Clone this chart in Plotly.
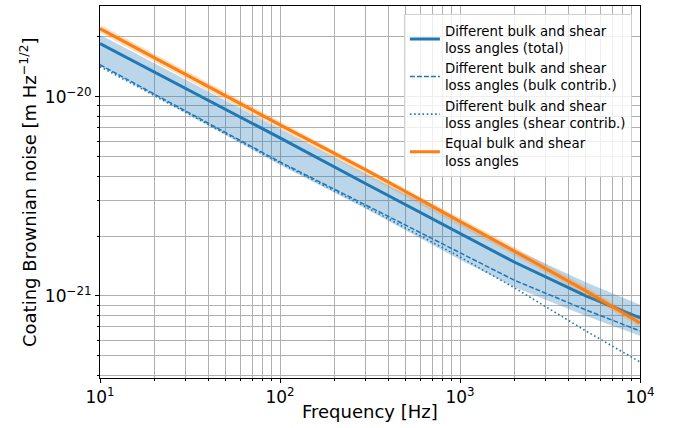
import numpy as np
import plotly.graph_objects as go

# ---- data ----
freq = [10, 30, 100, 300, 1000, 2000, 5000, 10000]
total = [1.85e-20, 1.10e-20, 6.22e-21, 3.66e-21, 2.05e-21, 1.48e-21, 1.00e-21, 7.75e-22]
bulk = [1.45e-20, 8.51e-21, 4.71e-21, 2.86e-21, 1.64e-21, 1.20e-21, 8.51e-22, 6.67e-22]
shear = [1.42e-20, 8.31e-21, 4.66e-21, 2.80e-21, 1.57e-21, 1.10e-21, 6.67e-22, 4.66e-22]
equal = [2.20e-20, 1.29e-20, 7.23e-21, 4.30e-21, 2.38e-21, 1.68e-21, 1.06e-21, 7.31e-22]
total_upper = [2.05e-20, 1.22e-20, 6.90e-21, 4.10e-21, 2.38e-21, 1.72e-21, 1.17e-21, 9.02e-22]
total_lower = [1.43e-20, 8.31e-21, 4.55e-21, 2.74e-21, 1.52e-21, 1.11e-21, 7.93e-22, 6.30e-22]

x_tickvals = [10, 100, 1000, 10000]
x_ticktext = ["10<sup>1</sup>", "10<sup>2</sup>", "10<sup>3</sup>", "10<sup>4</sup>"]
y_tickvals = [1e-21, 1e-20]
y_ticktext = ["10<sup>−21</sup>", "10<sup>−20</sup>"]

labels = [
    "Different bulk and shear<br>loss angles (total)",
    "Different bulk and shear<br>loss angles (bulk contrib.)",
    "Different bulk and shear<br>loss angles (shear contrib.)",
    "Equal bulk and shear<br>loss angles",
]
x_title = "Frequency [Hz]"
y_title = "Coating Brownian noise [m Hz<sup>−1/2</sup>]"

BLUE = "#1f77b4"
ORANGE = "#ff7f0e"
FONT = "DejaVu Sans"

fig = go.Figure()
# uncertainty band
fig.add_trace(go.Scatter(x=freq, y=total_lower, mode="lines", line=dict(width=0),
                         showlegend=False, hoverinfo="skip"))
fig.add_trace(go.Scatter(x=freq, y=total_upper, mode="lines", line=dict(width=0),
                         fill="tonexty", fillcolor="rgba(31,119,180,0.3)",
                         showlegend=False, hoverinfo="skip"))
fig.add_trace(go.Scatter(x=freq, y=total, mode="lines", name=labels[0],
                         line=dict(color=BLUE, width=3)))
fig.add_trace(go.Scatter(x=freq, y=bulk, mode="lines", name=labels[1],
                         line=dict(color=BLUE, width=1.5, dash="5px,2px")))
fig.add_trace(go.Scatter(x=freq, y=shear, mode="lines", name=labels[2],
                         line=dict(color=BLUE, width=1.6, dash="1.6px,2.6px")))
# faint halo for the equal-case line
fig.add_trace(go.Scatter(x=freq, y=equal, mode="lines", showlegend=False, hoverinfo="skip",
                         line=dict(color="rgba(255,127,14,0.25)", width=7)))
fig.add_trace(go.Scatter(x=freq, y=equal, mode="lines", name=labels[3],
                         line=dict(color=ORANGE, width=3)))

def minor_vals(lo_exp, hi_exp):
    vals = []
    for e in range(lo_exp, hi_exp + 1):
        for m in range(2, 10):
            vals.append(m * 10.0 ** e)
    return vals

GRID = "#b0b0b0"
common = dict(
    ticks="outside", ticklen=4, tickcolor="black",
    showgrid=True, gridcolor=GRID, gridwidth=1,
    showline=True, linecolor="black", linewidth=1, mirror=True,
    tickfont=dict(family=FONT, size=17, color="black"),
    zeroline=False, automargin=False,
)
fig.update_xaxes(
    type="log", range=[1, 4],
    tickvals=x_tickvals, ticktext=x_ticktext,
    minor=dict(tickvals=minor_vals(1, 3), ticks="outside", ticklen=2, tickcolor="black",
               showgrid=True, gridcolor=GRID, gridwidth=1),
    **common,
)
fig.update_yaxes(
    type="log", range=[np.log10(3.87e-22), np.log10(2.86e-20)],
    tickvals=y_tickvals, ticktext=y_ticktext,
    minor=dict(tickvals=minor_vals(-22, -20), ticks="outside", ticklen=2, tickcolor="black",
               showgrid=True, gridcolor=GRID, gridwidth=1),
    **common,
)

fig.add_annotation(text=x_title, xref="paper", yref="paper", x=0.5, y=0,
                   xanchor="center", yanchor="middle", yshift=-33, showarrow=False,
                   font=dict(family=FONT, size=18, color="black"))
fig.add_annotation(text=y_title, xref="paper", yref="paper", x=0, y=0.5,
                   xanchor="center", yanchor="middle", xshift=-72, textangle=-90,
                   showarrow=False, font=dict(family=FONT, size=18, color="black"))

fig.update_layout(
    width=680, height=428,
    margin=dict(l=100, r=40, t=6, b=50),
    paper_bgcolor="white", plot_bgcolor="white",
    font=dict(family=FONT, color="black"),
    legend=dict(
        x=0.985, y=0.978, xanchor="right", yanchor="top",
        bgcolor="rgba(255,255,255,0.8)", bordercolor="#d0d0d0", borderwidth=1,
        font=dict(family=FONT, size=13.3, color="black"),
        tracegroupgap=0, itemwidth=30, traceorder="normal",
    ),
    showlegend=True,
)

fig.write_html(
    "out.html",
    config={"displayModeBar": False},
    post_script="document.body.style.margin='0';document.body.style.padding='0';",
)
